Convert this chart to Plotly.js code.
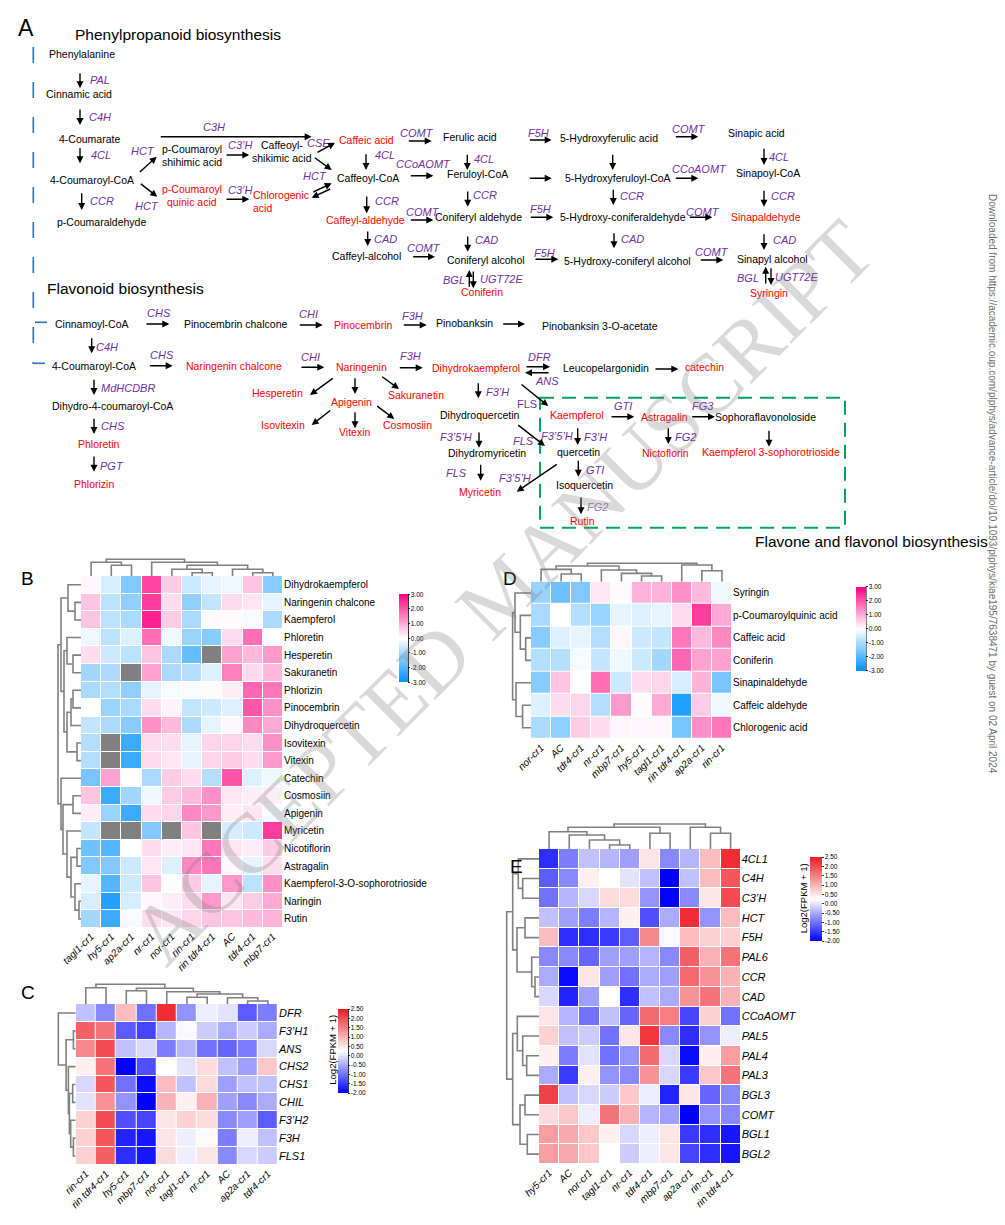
<!DOCTYPE html>
<html><head><meta charset="utf-8">
<script src="https://cdn.plot.ly/plotly-3.0.1.min.js"></script>
<style>html,body{margin:0;padding:0;background:#fff}</style>
</head><body><div id="chart" style="width:1005px;height:1225px"></div>
<script>
// ================= DATA =================
// Panel B – flavonoid metabolites (null = not detected, drawn grey)
const bCols = ['tagl1-cr1','hy5-cr1','ap2a-cr1','nr-cr1','nor-cr1','rin-cr1','rin tdr4-cr1','AC','tdr4-cr1','mbp7-cr1'];
const bRows = ['Dihydrokaempferol','Naringenin chalcone','Kaempferol','Phloretin','Hesperetin','Sakuranetin','Phlorizin','Pinocembrin','Dihydroquercetin','Isovitexin','Vitexin','Catechin','Cosmosiin','Apigenin','Myricetin','Nicotiflorin','Astragalin','Kaempferol-3-O-sophorotrioside','Naringin','Rutin'];
const bValues = [
 [ 0.1,-0.5,-1.5, 2.2, 0.6,-0.6,-0.3,-0.2, 0.7,-1.4],
 [ 0.7,-0.8,-1.3, 2.3, 0.4,-1.3,-0.7, 0.4, 0.3,-0.3],
 [ 0.7,-0.8,-1.0, 2.6, 0.6,-1.0, 0.05,0.05,-0.1,-1.0],
 [-0.2,-0.8,-0.4, 1.7,-0.2,-1.2,-1.4, 0.4, 1.7, 0.0],
 [ 0.4,-0.6,-0.8, 0.7,-1.0,-1.8, null,1.1, 0.8, 1.2],
 [-1.1,-1.0, null,1.1,-1.0,-0.9,-0.4, 1.5, 0.4, 0.8],
 [-1.0,-0.9,-1.3,-0.3,-0.1,-0.1, 0.05,0.2, 1.8, 1.6],
 [ 0.0,-1.2,-1.0, 0.4, 0.15,-0.7,-0.6,-0.4, 2.0, 1.3],
 [-0.7,-1.0,-1.4, 1.3, 0.8,-1.0,-0.3, 0.1, 1.4, 1.0],
 [-0.9, null,-2.3, 0.4, 0.4,-0.3, 0.5, 0.5, 0.4, 1.3],
 [-0.9, null,-2.3, 0.4, 0.3,-0.3, 0.5, 0.6, 0.4, 1.2],
 [-1.6, 1.1, 0.0,-1.0, 0.6, 0.4,-0.9, 2.0,-0.4,-0.2],
 [ 0.7,-2.3,-1.1,-0.2, 0.6, 0.8, 1.3, 0.3, 0.2, 0.2],
 [ 0.2,-1.2,-2.3, 0.4, 0.5, 1.4, 1.2, 0.2, 0.3,-0.1],
 [-0.7, null, null,-1.5, null,0.7, null,-0.5,-0.6, 2.3],
 [-1.7,-2.0, 0.0, 0.4, 0.2, 0.3, 1.6, 0.3, 0.2, 0.6],
 [-1.5,-1.5,-0.6, 0.3,-0.4, 1.4, 1.6, 0.1,-0.3, 0.4],
 [-0.3,-2.0,-0.6, 0.7, 0.0, 0.6,-0.3, 1.2,-0.8, 1.3],
 [-0.5,-2.6,-0.5, 0.1, 0.2, 0.4, 1.2, 0.3, 0.6, 1.0],
 [-1.1,-2.3,-0.1, 0.4, 0.3, 0.5, 0.7, 0.7, 0.8, 0.9]
];
// dendrogram merges: [childA, childB, height]
const bColMerges = [[1,2,10.7],[0,10,13.7],[5,6,3.3],[4,12,6.7],[8,9,3.3],[7,14,6.7],[13,15,10.7],[3,16,13.7],[11,17,16.7]];
const bRowMerges = [[1,2,6],[0,20,13],[4,5,8],[3,22,14],[6,7,8],[8,24,10],[9,10,4],[25,26,14],[23,27,17],[21,28,20],[12,13,8],[15,16,4],[18,19,2],[17,32,6],[31,33,10],[14,34,14],[30,35,18],[11,36,20],[29,37,23]];

// Panel C – flavonoid genes, Log2(FPKM + 1)
const cCols = ['rin-cr1','rin tdr4-cr1','hy5-cr1','mbp7-cr1','nor-cr1','tagl1-cr1','nr-cr1','AC','ap2a-cr1','tdr4-cr1'];
const cRows = ['DFR','F3\u2019H1','ANS','CHS2','CHS1','CHIL','F3\u2019H2','F3H','FLS1'];
const cValues = [
 [-0.3,-0.8, 0.9,-1.0, 2.3,-0.7, 0.1, 0.0,-1.2,-0.9],
 [ 1.8, 1.6,-1.2,-1.4,-0.4, 0.2,-0.2,-0.5,-0.2,-0.5],
 [ 1.4, 2.0,-0.3,-0.1,-0.9,-0.4,-1.0,-1.1,-0.9,-0.1],
 [ 0.4, 1.6,-2.0,-1.3, 0.25,0.0, 0.6,-0.3,-0.6, 0.8],
 [-0.1, 1.9,-1.0,-1.9, 0.9,-0.3, 0.6,-0.6,-0.3,-0.3],
 [ 0.0, 1.3,-0.7,-2.0, 1.0, 0.4, 1.0,-0.6,-0.8,-0.5],
 [ 0.7, 2.0,-1.3,-1.4, 0.5, 0.7, 0.6,-0.8,-0.6,-1.2],
 [ 0.7, 1.9,-1.7,-1.8, 0.5, 0.1, 0.3,-0.9, 0.1,-0.3],
 [ 0.7, 1.8,-1.6,-1.8, 0.6, 0.1, 0.5,-0.8,-0.1,-0.2]
];
const cColMerges = [[8,9,3],[7,10,6.3],[5,6,6.7],[12,11,10],[4,13,12.3],[2,3,13.3],[15,14,15.7],[0,1,16.3],[17,16,19.7]];
const cRowMerges = [[1,2,2.3],[4,5,3],[7,8,2.3],[6,11,5],[10,12,6.3],[3,13,7.3],[9,14,9.6],[0,15,17.4]];

// Panel D – phenylpropanoid metabolites
const dCols = ['nor-cr1','AC','tdr4-cr1','nr-cr1','mbp7-cr1','hy5-cr1','tagl1-cr1','rin tdr4-cr1','ap2a-cr1','rin-cr1'];
const dRows = ['Syringin','p-Coumaroylquinic acid','Caffeic acid','Coniferin','Sinapinaldehyde','Caffeic aldehyde','Chlorogenic acid'];
const dValues = [
 [-1.2,-1.7,-1.5, 0.3, 0.05,0.9, 0.9, 1.3, 0.8,-0.2],
 [-1.0, 0.0,-0.9,-1.2,-0.3,-0.4,-0.3, 0.4, 2.3, 1.0],
 [-1.4,-0.4,-0.3,-0.9, 0.1,-0.6,-0.7, 1.6, 0.8, 1.4],
 [-0.9,-0.9,-0.1,-0.7,-0.2,-0.6,-1.1, 1.8, 1.1, 1.1],
 [-1.4, 0.7, 0.0, 1.7,-0.6, 0.4, 0.5,-0.5, 0.9,-1.6],
 [-0.4, 0.4, 0.5,-0.9, 1.2, 0.05,1.0,-2.6, 0.6,-0.2],
 [-1.0,-1.3, 0.6, 0.4, 0.1, 0.1, 0.1,-1.6, 1.3, 1.6]
];
const dColMerges = [[1,2,7.7],[0,10,12.3],[5,6,5.7],[4,12,8.3],[3,13,11.7],[11,14,15.7],[8,9,11],[7,16,16.7],[15,17,18.4]];
const dRowMerges = [[2,3,5.3],[1,7,10.7],[0,8,16],[5,6,8.4],[4,10,15],[9,11,18.4]];

// Panel E – phenylpropanoid genes, Log2(FPKM + 1)
const eCols = ['hy5-cr1','AC','nor-cr1','tagl1-cr1','nr-cr1','tdr4-cr1','mbp7-cr1','ap2a-cr1','rin-cr1','rin tdr4-cr1'];
const eRows = ['4CL1','C4H','C3\u2019H','HCT','F5H','PAL6','CCR','CAD','CCoAOMT','PAL5','PAL4','PAL3','BGL3','COMT','BGL1','BGL2'];
const eValues = [
 [-1.6,-0.9,-0.3,-0.4,-0.6, 0.5,-0.8,-0.4, 0.9, 2.3],
 [-1.2,-0.8, 0.4, 0.25,0.0,-0.3,-2.0,-0.3, 0.9, 1.9],
 [-1.0,-0.4,-0.1, 0.6, 0.6,-0.7,-2.0,-0.8, 0.5, 2.0],
 [-0.3,-0.6,-0.9,-0.4, 0.4,-1.3,-0.5, 2.3,-0.7, 0.9],
 [ 0.9,-1.6,-1.6,-1.5,-1.2, 1.4, 0.2, 0.9, 0.7, 0.7],
 [-0.8,-0.8,-1.1,-0.6,-0.6,-0.4,-0.8, 1.8, 1.0, 1.6],
 [-0.5,-1.9, 0.5,-0.6,-1.0,-0.5,-0.6, 1.7, 1.3, 1.0],
 [-0.1,-1.7,-0.6, 0.25,-1.6,-0.3,-0.5, 1.3, 1.6, 1.0],
 [ 0.5,-0.4,-1.0,-0.3,-1.1, 1.7, 1.5,-1.4, 0.7,-1.0],
 [ 0.7,-0.3,-0.2,-1.0, 0.5, 2.2,-0.8,-1.6,-0.7, 0.1],
 [ 0.4,-0.9, 0.0,-1.0,-0.7, 1.7,-0.1,-1.9, 0.4, 1.2],
 [-0.5,-1.5, 0.4,-0.7,-0.8, 1.3,-0.1,-1.5, 0.8, 1.6],
 [ 2.1,-0.3,-0.1,-0.2, 0.8, 0.1,-1.7, 0.5,-1.1,-0.8],
 [ 0.6, 0.8, 0.1, 1.6, 1.0,-0.4,-0.6,-2.0,-0.7,-0.8],
 [ 1.2, 1.1, 0.8, 0.4,-0.1, 0.1, 0.5,-1.5,-1.6,-1.8],
 [ 1.2, 1.1, 0.8, 0.25,-0.2,0.1, 0.5,-1.4,-1.6,-1.8]
];
const eColMerges = [[3,4,4],[2,10,9],[1,11,14],[0,12,17.3],[5,6,15.7],[13,14,21.7],[8,9,15.7],[7,16,21.7],[15,17,25]];
const eRowMerges = [[1,2,16.3],[0,16,20.7],[6,7,4],[5,18,7.3],[3,4,14],[20,19,22],[17,21,26.3],[10,11,12.3],[9,23,16.3],[8,24,21.7],[14,15,11.7],[12,13,14],[27,26,19],[25,28,26.3],[22,29,32.3]];

const metTicks = [3,2,1,0,-1,-2,-3];
const geneTicks = [2.5,2,1.5,1,0.5,0,-0.5,-1,-1.5,-2];

// ================= LAYOUT / DRAWING =================
const W = 1005, H = 1225;
const FONT = 'Liberation Sans, Arial, sans-serif';
const csMet = [[0,'rgb(0,145,255)'],[0.5,'rgb(255,255,255)'],[1,'rgb(255,0,127)']];
const csGene = [[0,'rgb(0,0,255)'],[0.5,'rgb(255,255,255)'],[1,'rgb(238,24,32)']];
const DCOL = 'rgb(128,128,128)';

function dendro(merges, n){
  const pos=[], hgt=[], a=[], b=[];
  for(let i=0;i<n;i++){pos[i]=i;hgt[i]=0;}
  merges.forEach((m,k)=>{
    const [i,j,h]=m, id=n+k;
    a.push(pos[i],pos[i],pos[j],pos[j],null);
    b.push(hgt[i],h,h,hgt[j],null);
    pos[id]=(pos[i]+pos[j])/2; hgt[id]=h;
  });
  return {a,b};
}

const traces=[]; const layout={
  width:W, height:H, margin:{l:0,r:0,t:0,b:0}, paper_bgcolor:'#fff', plot_bgcolor:'rgba(0,0,0,0)',
  showlegend:false, font:{family:FONT,size:10,color:'#000'}, annotations:[], shapes:[]
};
let axN=0;
function axName(k){return k===1?'':String(k);}

function panel(p){
  const cols=p.cols, rows=p.rows, nC=cols.length, nR=rows.length;
  const xi=cols.map((_,i)=>i), yi=rows.map((_,i)=>i);
  const k=++axN, kc=++axN, kr=++axN;
  const xd=[p.left/W,p.right/W], yd=[1-p.bottom/H,1-p.top/H];
  layout['xaxis'+axName(k)]={domain:xd, anchor:'y'+axName(k), range:[-0.5,nC-0.5], showgrid:false, zeroline:false, showline:false, ticks:'',
    tickmode:'array', tickvals:xi, ticktext:cols, tickangle:-45, tickfont:{size:10,style:'italic',family:FONT}, fixedrange:true};
  layout['yaxis'+axName(k)]={domain:yd, anchor:'x'+axName(k), range:[nR-0.5,-0.5], side:'right', showgrid:false, zeroline:false, showline:false, ticks:'',
    tickmode:'array', tickvals:yi, ticktext:rows, tickfont:{size:p.rowSize,style:p.rowItalic?'italic':'normal',family:FONT}, fixedrange:true};
  const cb=p.cb;
  traces.push({type:'heatmap', z:p.values, x:xi, y:yi, xaxis:'x'+axName(k), yaxis:'y'+axName(k),
    colorscale:p.cs, zmin:p.zmin, zmax:p.zmax, xgap:1, ygap:1, hoverinfo:'skip',
    colorbar:{x:cb.left/W, xanchor:'left', y:1-cb.top/H, yanchor:'top', len:cb.len, lenmode:'pixels', thickness:cb.thick, thicknessmode:'pixels',
      xpad:0, ypad:0, outlinewidth:0, tickmode:'array', tickvals:p.ticks, ticktext:p.ticks.map(v=>v.toFixed(2)),
      ticks:'outside', ticklen:2, tickwidth:0.8, tickcolor:'#000', tickfont:{size:6.5,family:FONT,color:'#000'}}});
  layout.shapes.push({type:'line', xref:'paper', yref:'paper', x0:(cb.left+cb.thick)/W, x1:(cb.left+cb.thick)/W, y0:1-cb.top/H, y1:1-(cb.top+cb.len)/H, line:{color:'#000',width:1}});
  if(p.values.some(r=>r.some(v=>v===null))){
    traces.push({type:'heatmap', z:p.values.map(r=>r.map(v=>v===null?1:null)), x:xi, y:yi, xaxis:'x'+axName(k), yaxis:'y'+axName(k),
      colorscale:[[0,'rgb(128,128,128)'],[1,'rgb(128,128,128)']], showscale:false, xgap:1, ygap:1, hoverinfo:'skip'});
  }
  const dc=dendro(p.colMerges,nC);
  layout['xaxis'+axName(kc)]={domain:xd, anchor:'y'+axName(kc), range:[-0.5,nC-0.5], visible:false, fixedrange:true};
  layout['yaxis'+axName(kc)]={domain:[1-p.top/H,1-(p.top-p.colH)/H], anchor:'x'+axName(kc), range:[0,p.colH], visible:false, fixedrange:true};
  traces.push({type:'scatter', mode:'lines', x:dc.a, y:dc.b, xaxis:'x'+axName(kc), yaxis:'y'+axName(kc), line:{color:DCOL,width:1.6}, hoverinfo:'skip', cliponaxis:false});
  const dr=dendro(p.rowMerges,nR);
  layout['xaxis'+axName(kr)]={domain:[(p.left-p.rowW)/W,p.left/W], anchor:'y'+axName(kr), range:[p.rowW,0], visible:false, fixedrange:true};
  layout['yaxis'+axName(kr)]={domain:yd, anchor:'x'+axName(kr), range:[nR-0.5,-0.5], visible:false, fixedrange:true};
  traces.push({type:'scatter', mode:'lines', x:dr.b, y:dr.a, xaxis:'x'+axName(kr), yaxis:'y'+axName(kr), line:{color:DCOL,width:1.6}, hoverinfo:'skip', cliponaxis:false});
}

panel({cols:bCols, rows:bRows, values:bValues, colMerges:bColMerges, rowMerges:bRowMerges, left:81, right:283, top:576, bottom:927.7,
  colH:20, rowW:25, cs:csMet, zmin:-3, zmax:3, ticks:metTicks, rowSize:10, rowItalic:false, cb:{left:399.3, top:594.3, len:88, thick:9}});
panel({cols:cCols, rows:cRows, values:cValues, colMerges:cColMerges, rowMerges:cRowMerges, left:75.7, right:278, top:1004, bottom:1165,
  colH:21, rowW:19, cs:csGene, zmin:-2, zmax:2.5, ticks:geneTicks, rowSize:11, rowItalic:true, cb:{left:338.3, top:1009, len:84, thick:10}});
panel({cols:dCols, rows:dRows, values:dValues, colMerges:dColMerges, rowMerges:dRowMerges, left:531, right:732, top:581.7, bottom:739,
  colH:20, rowW:20, cs:csMet, zmin:-3, zmax:3, ticks:metTicks, rowSize:10, rowItalic:false, cb:{left:856, top:586.7, len:84.3, thick:10}});
panel({cols:eCols, rows:eRows, values:eValues, colMerges:eColMerges, rowMerges:eRowMerges, left:539, right:740.7, top:849, bottom:1164,
  colH:26, rowW:34, cs:csGene, zmin:-2, zmax:2.5, ticks:geneTicks, rowSize:11, rowItalic:true, cb:{left:810, top:857, len:83.7, thick:11.5}});

const A = layout.annotations;
function txt(t,x,y,font,extra){A.push(Object.assign({text:t,x:x/W,y:1-y/H,xref:'paper',yref:'paper',showarrow:false,xanchor:'center',yanchor:'middle',font:font},extra||{}));}
function arrow(x1,y1,x2,y2){A.push({text:'',x:x2/W,y:1-y2/H,xref:'paper',yref:'paper',ax:x1-x2,ay:y1-y2,showarrow:true,arrowhead:2,arrowsize:1,arrowwidth:1.4,arrowcolor:'#000',standoff:0,startstandoff:0});}
const PURPLE='rgb(112,48,160)', RED='rgb(255,0,0)';
const fK={family:FONT,size:10.5,color:'#000'}, fR={family:FONT,size:10.5,color:RED};
const fE={family:FONT,size:11,color:PURPLE,style:'italic'}, fU={family:FONT,size:11,color:PURPLE};
const fF={family:FONT,size:11,color:'rgb(150,120,190)',style:'italic'};

txt('A',26,28,{family:FONT,size:23});
txt('B',27,578,{family:FONT,size:19}); txt('C',28,993,{family:FONT,size:19});
txt('D',510,578,{family:FONT,size:19}); txt('E',516,866,{family:FONT,size:19});
txt('Phenylpropanoid biosynthesis',72.7,34,{family:FONT,size:15.5},{xanchor:'left'});
txt('Flavonoid biosynthesis',45,288.3,{family:FONT,size:15.5},{xanchor:'left'});
txt('Flavone and flavonol biosynthesis',871.7,541.7,{family:FONT,size:15.5});
txt('Log2(FPKM + 1)',331.7,1050,{family:FONT,size:9.5},{textangle:-90});
txt('Log2(FPKM + 1)',803.3,898,{family:FONT,size:9.5},{textangle:-90});

[['Phenylalanine',81.7,54],['Cinnamic acid',79,94],['4-Coumarate',89.3,139],['4-Coumaroyl-CoA',91.7,180],['p-Coumaraldehyde',101.7,222],
 ['p-Coumaroyl',191.7,149],['shihimic acid',191.7,162],['Caffeoyl-',281.7,145],['shikimic acid',281.7,157.7],['Caffeoyl-CoA',368.3,177.7],
 ['Ferulic acid',469.5,137.3],['Feruloyl-CoA',477.5,174],['Coniferyl aldehyde',478,217],['Caffeyl-alcohol',366.7,256],['Coniferyl alcohol',486,260],
 ['5-Hydroxyferulic acid',609,138.3],['Sinapic acid',756.7,133.3],['5-Hydroxyferuloyl-CoA',617.7,178.3],['Sinapoyl-CoA',768.3,173.3],
 ['5-Hydroxy-coniferaldehyde',623.3,217.3],['5-Hydroxy-coniferyl alcohol',627.7,261],['Sinapyl alcohol',772.3,259.3],
 ['Cinnamoyl-CoA',91.7,324],['Pinocembrin chalcone',235,324],['Pinobanksin',464,323.3],['Pinobanksin 3-O-acetate',600,326],
 ['4-Coumaroyl-CoA',94,365.7],['Dihydro-4-coumaroyl-CoA',112.3,406],['Leucopelargonidin',606,368.3],['Dihydroquercetin',480,415],
 ['Dihydromyricetin',487,453],['Sophoraflavonoloside',765.7,416.7],['quercetin',578.3,452],['Isoquercetin',584,485]
].forEach(n=>txt(n[0],n[1],n[2],fK));
[['p-Coumaroyl',192.3,189.3],['quinic acid',192.3,202],['Caffeic acid',366.7,140],['Chlorogenic',280.7,195],['acid',262.3,208],
 ['Caffeyl-aldehyde',365,220],['Coniferin',482,292],['Sinapaldehyde',765.7,217.3],['Syringin',769.3,292.7],['Pinocembrin',363.3,325],
 ['Naringenin chalcone',234.3,365.7],['Naringenin',361.7,367.3],['Dihydrokaempferol',476,368],['catechin',704,367.3],['Hesperetin',277.7,393.3],
 ['Apigenin',351.7,402.3],['Sakuranetin',416,395],['Isovitexin',283.3,425],['Vitexin',354,432.3],['Cosmosiin',407.7,425],['Phloretin',98.7,444],
 ['Phlorizin',94.3,484],['Myricetin',479.5,492],['Kaempferol',577.3,415],['Astragalin',664.3,416.7],['Nictoflorin',665.3,452.7],
 ['Kaempferol 3-sophorotrioside',771,452],['Rutin',582,521]
].forEach(n=>txt(n[0],n[1],n[2],fR));
[['PAL',100,80],['C4H',100,117],['4CL',100.7,155.3],['CCR',101.7,201],['HCT',142.7,151],['HCT',147.3,205.7],['C3H',214,126.7],
 ['C3\u2019H',240,145],['C3\u2019H',240.7,190],['CSE',318.3,142.7],['HCT',315,176],['4CL',385,155],['COMT',416.7,133.3],['CCoAOMT',423.3,164],
 ['4CL',484,159],['CCR',386.7,201],['COMT',422.7,212],['CCR',485,195],['CAD',385,239],['COMT',424,247.7],['CAD',486,240],['BGL',454,280],
 ['UGT72E',501,279],['F5H',538.3,133.3],['COMT',689.3,129.3],['4CL',779,157.3],['CCoAOMT',699.3,169.3],['CCR',631.7,196],['CCR',783.3,196],
 ['F5H',540,209.3],['COMT',703.3,211.7],['CAD',632.3,239],['CAD',784,240],['F5H',544.3,252.7],['COMT',712.3,252.3],['BGL',748.3,277.7],
 ['UGT72E',796,276.7],['CHS',159,312.7],['CHI',308.3,314],['F3H',412.3,316],['C4H',107.3,347.3],['CHS',162.3,355],['CHI',310,357.3],
 ['F3H',410,356],['MdHCDBR',127.7,387.7],['CHS',113.3,426],['PGT',112.3,466],['F3\u2019H',497,392],['F3\u20195\u2019H',456,436.7],['FLS',456,472.7],
 ['DFR',539,357.3],['ANS',546.7,381],['FLS',523.3,441],['F3\u20195\u2019H',515,478],['GTI',623.3,406],['FG3',703.3,406],['F3\u20195\u2019H',557.3,435.7],
 ['F3\u2019H',595,436.7],['FG2',685,436.7],['GTI',595,470]
].forEach(n=>txt(n[0],n[1],n[2],fE));
txt('FLS',526.7,404,fU);
txt('FG2',597.3,507.3,fF);

[[80,71.7,80,88.3],[80,108,80,125],[80,146.7,80,163.3],[81.7,191.7,81.7,210],
 [138.3,173.3,156.7,156.7],[139.3,182.7,157.3,196.7],[159.3,136.7,311.7,136.7],[225,155,249.3,155],[225,199.3,249.3,199.3],
 [316,153.3,335,142.7],[313.3,156.7,331.7,170],[311.7,192.7,331.7,183.3],[331.7,188.3,311.7,197.7],
 [366,152.7,366,170],[407.3,141,431.7,141],[409.3,175.7,433.3,175.7],[467.3,153.3,467.3,170],[366.7,195,366.7,213.3],
 [409.3,220,433.3,220],[467.7,190,467.7,206.7],[367.7,230,367.7,246],[411.7,256.7,435,256.7],[467.7,235,467.7,251.7],
 [469.3,288.3,469.3,270],[473.3,270,473.3,288.3],
 [528.3,140,551.7,140],[612.7,153.3,612.7,170],[674.3,136.7,698.3,136.7],[764,147.3,764,165],[528.3,178.3,551.7,178.3],
 [674.3,178.3,698.3,178.3],[613.3,188.3,613.3,205],[764,189.3,764,206.7],[529.3,217.3,553.3,217.3],[688.3,217.3,712.3,217.3],
 [614,231.7,614,248.3],[764,232.7,764,250],[534,259.3,558.3,259.3],[699.3,260,723.3,260],[765.7,285,765.7,266.7],[771,266.7,771,285],
 [145,324,169.3,324],[298.3,325,322.7,325],[402.3,325,426.7,325],[501.7,324,525,324],[91.7,336.7,91.7,353.3],[148.3,365.7,172.7,365.7],
 [300,367.3,324.3,367.3],[398.3,367.7,422.7,367.7],[334.3,377.3,310,395],[355,376.7,355,394],[380.7,375.7,399,389],
 [331.7,409.3,311.7,425],[355,410.7,355,428.3],[375.7,405,394.3,419],[94,378.3,94,395],[94,417.3,94,434],[94,455,94,471.7],
 [478.3,381.7,478.3,398.3],[479,431,479,447.7],[480.7,463.3,480.7,480.7],[525,366.7,550,366.7],[550,372.7,525,372.7],
 [654,369,678.3,369],[520,383.3,548.3,406],[516.7,424,545,446],[558.3,463.3,516.7,491.7],[610,416.7,634.3,416.7],
 [690.7,416.7,715,416.7],[577.7,426.7,577.7,445],[668.3,426.7,668.3,444],[769,429.3,769,446.7],[578.3,459.3,578.3,476.7],[581,496,581,514.3]
].forEach(a=>arrow(a[0],a[1],a[2],a[3]));

const S=layout.shapes;
function pline(x0,y0,x1,y1,color,width,dash){S.push({type:'line',xref:'paper',yref:'paper',x0:x0/W,y0:1-y0/H,x1:x1/W,y1:1-y1/H,line:{color:color,width:width,dash:dash||'solid'}});}
const BLUE='rgb(46,117,182)';
pline(33.3,47,33.3,363.3,BLUE,1.6,'16px,19px');
pline(35,322.3,47,322.3,BLUE,1.6); pline(32.5,363.3,45,363.3,BLUE,1.6);
const GREEN='rgb(0,166,90)';
S.push({type:'rect',xref:'paper',yref:'paper',x0:540/W,x1:845/W,y0:1-397.7/H,y1:1-527.7/H,line:{color:GREEN,width:2,dash:'14px,8px'}});

txt('Downloaded from https://academic.oup.com/plphys/advance-article/doi/10.1093/plphys/kiae195/7638471 by guest on 02 April 2024',993,484,
  {family:FONT,size:10,color:'rgb(110,110,110)'},{textangle:90});
txt('ACCEPTED MANUSCRIPT',502,592,{family:'Liberation Serif, Times New Roman, serif',size:85,color:'rgba(120,120,120,0.28)'},{textangle:-45});

Plotly.newPlot('chart',traces,layout,{staticPlot:true,displayModeBar:false});
</script></body></html>
